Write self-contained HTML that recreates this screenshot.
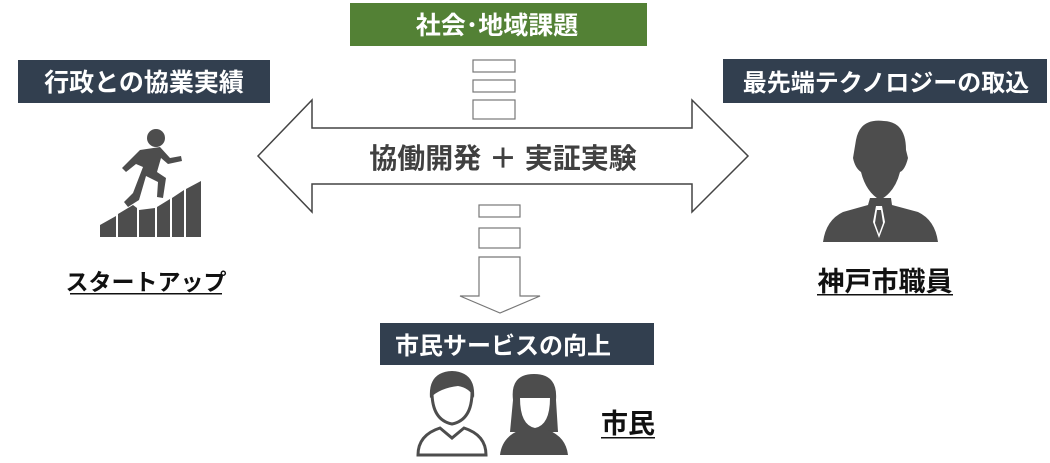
<!DOCTYPE html>
<html><head><meta charset="utf-8"><style>
html,body{margin:0;padding:0;background:#fff;}
svg{display:block;}
text{font-family:"Liberation Sans","Noto Sans CJK JP",sans-serif;font-weight:bold;}
</style></head><body>
<svg width="1050" height="463" viewBox="0 0 1050 463" xmlns="http://www.w3.org/2000/svg">
<rect x="350" y="3" width="297" height="43" fill="#538135"/>
<text x="497" y="34" font-size="25" fill="#fff" text-anchor="middle">社会･地域課題</text>
<rect x="18" y="60" width="252" height="43" fill="#323f4f"/>
<text x="144" y="91" font-size="25" fill="#fff" text-anchor="middle">行政との協業実績</text>
<rect x="723" y="59" width="324" height="44" fill="#323f4f"/>
<text x="886" y="91" font-size="24" fill="#fff" text-anchor="middle">最先端テクノロジーの取込</text>
<rect x="380" y="323" width="274" height="42" fill="#323f4f"/>
<text x="503" y="354" font-size="24" fill="#fff" text-anchor="middle">市民サービスの向上</text>
<g fill="#fff" stroke="#777" stroke-width="1.2">
<rect x="473" y="60" width="42" height="12"/>
<rect x="473" y="80" width="42" height="12"/>
<rect x="473" y="100" width="42" height="19"/>
<rect x="479" y="205" width="41" height="12"/>
<rect x="479" y="228" width="41" height="20"/>
<polygon points="479,257 520,257 520,296 540,296 500,313 460,296 479,296"/>
</g>
<polygon points="258,156 312,100 312,128 692,128 692,100 748,156 692,212 692,184 312,184 312,212" fill="#fff" stroke="#444" stroke-width="1.5"/>
<text x="503" y="168" font-size="28" fill="#404040" text-anchor="middle">協働開発 ＋ 実証実験</text>
<g fill="#4d4d4d">
<circle cx="156" cy="138" r="9"/>
<path d="M140 150 L160 147 L170 158 L181 156 L182 161 L168 164 L161 158 L157 172 L166 178 L163 198 L157 197 L158 182 L146 176 L139 200 L128 207 L124 202 L133 193 L143 167 L136 164 L126 172 L122 168 Z"/>
<polygon points="100,237 100,225 116,216 116,237"/>
<polygon points="118,237 118,214 133,205 137,208 137,237"/>
<polygon points="139,237 139,210 155,208 155,237"/>
<polygon points="157,237 157,207 170,199 170,237"/>
<polygon points="172,237 172,198 184,190 184,237"/>
<polygon points="186,237 186,189 201,181 201,237"/>
</g>
<text x="146" y="290" font-size="23" fill="#111" text-anchor="middle">スタートアップ</text>
<rect x="70" y="293" width="152" height="1.5" fill="#111"/>
<g fill="#4d4d4d">
<path d="M856 140 Q860 118 884 121 Q906 122 906 150 L908 158 Q905 170 900 172 Q895 192 880 200 Q866 192 861 172 Q855 168 853 158 Z"/>
<path d="M870 198 L891 198 L892 205 L918 212 Q935 220 938 242 L823 242 Q826 220 843 212 L868 205 Z"/>
</g>
<polygon points="876,206 882,206 885,222 879,238 873,222" fill="#fff"/>
<polygon points="877,210 881,210 883,223 879,234 875,223" fill="#4d4d4d"/>
<text x="885" y="291" font-size="27" fill="#111" text-anchor="middle">神戸市職員</text>
<rect x="817" y="294" width="136" height="1.5" fill="#111"/>
<g fill="#4d4d4d">
<path d="M430 398 Q428 372 452 371 Q476 372 474 398 Q470 388 458 386 Q440 388 430 398 Z"/>
<path d="M513 400 Q510 374 534 374 Q558 374 556 400 L558 432 L510 432 Z"/>
<path d="M500 455 Q502 437 520 430 L548 430 Q566 437 568 455 Z"/>
</g>
<g fill="none" stroke="#4d4d4d" stroke-width="3">
<path d="M432 392 Q432 420 452 424 Q472 420 472 392"/>
<path d="M418 455 Q418 435 440 428 L452 438 L464 428 Q486 435 486 455 Z"/>
</g>
<path d="M520 398 Q520 425 535 428 Q550 425 550 398" fill="#fff"/>
<text x="628" y="433" font-size="27" fill="#111" text-anchor="middle">市民</text>
<rect x="601" y="437" width="54" height="1.5" fill="#111"/>
</svg>
</body></html>
